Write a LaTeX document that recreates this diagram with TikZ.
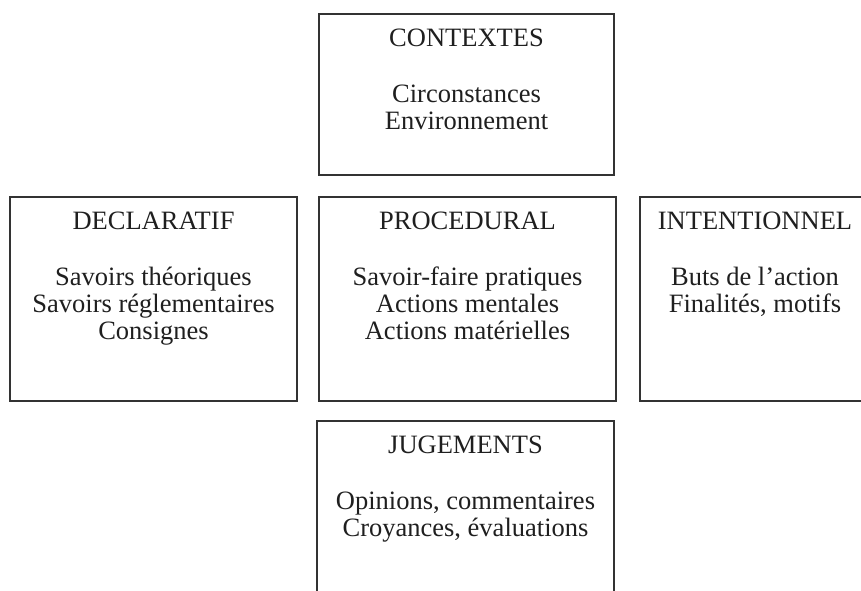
\documentclass[tikz,border=0pt]{standalone}
\usepackage{fontspec}
\setmainfont{Liberation Serif}
\usepackage{tikz}
\usetikzlibrary{calc}
\tikzstyle{box}=[rectangle, draw=black!80, line width=1.1pt, fill=white, inner sep=0pt, anchor=center]
\tikzstyle{annot}=[align=center, anchor=north, inner sep=0pt, text=black!88, font=\fontsize{26.5}{27}\selectfont]
\newcommand{\drawbox}[6]
{
  \node[box, minimum width=#3pt, minimum height=#4pt](#1) at #2{};
  \node[annot](#1-text) at ([yshift=-14.1pt]#1.north){\strut #5\\[29pt]#6};
}

\begin{document}
\begin{tikzpicture}[x=1pt, y=-1pt]
	\useasboundingbox (0,0) rectangle (861,590);
	\clip (0,0) rectangle (861,590);

	\drawbox{ctx}{(466.5,94.5)}{295}{161}{CONTEXTES}{Circonstances\\Environnement}
	\drawbox{decl}{(153.5,299)}{287}{204}{DECLARATIF}{Savoirs théoriques\\Savoirs réglementaires\\Consignes}
	\drawbox{proc}{(467.5,299)}{297}{204}{PROCEDURAL}{Savoir-faire pratiques\\Actions mentales\\Actions matérielles}
	\drawbox{intent}{(755,299)}{230}{204}{INTENTIONNEL}{Buts de l’action\\Finalités, motifs}
	\drawbox{jug}{(465.5,520)}{297}{198}{JUGEMENTS}{Opinions, commentaires\\Croyances, évaluations}

\end{tikzpicture}
\end{document}
